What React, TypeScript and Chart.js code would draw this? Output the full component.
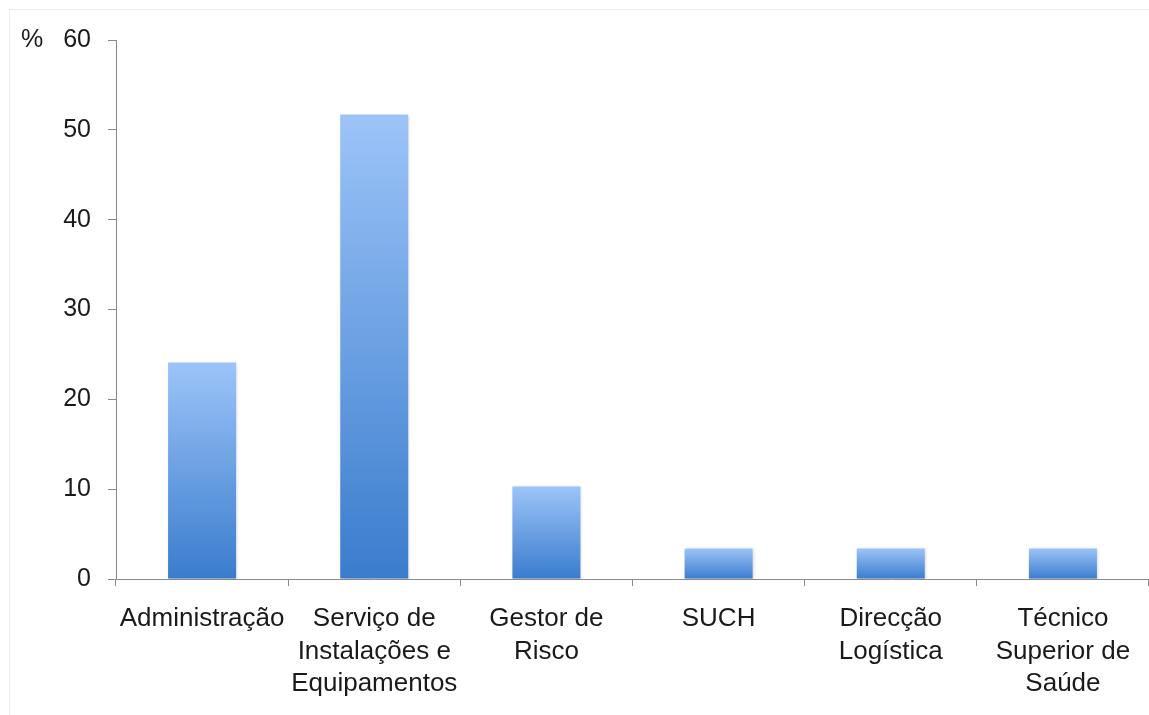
import React, { useEffect, useRef } from "react";
import { Chart, registerables } from "chart.js";

Chart.register(...registerables);

// Share of respondents by area (%)
const categories: string[][] = [
  ["Administração"],
  ["Serviço de", "Instalações e", "Equipamentos"],
  ["Gestor de", "Risco"],
  ["SUCH"],
  ["Direcção", "Logística"],
  ["Técnico", "Superior de", "Saúde"],
];
const percentages: number[] = [24.1, 51.7, 10.3, 3.4, 3.4, 3.4];
const yTicks: number[] = [0, 10, 20, 30, 40, 50, 60];
const yUnit = "%";

const FONT = "'Liberation Sans', Arial, sans-serif";
const TEXT = "#1a1a1a";
const AXIS = "#8a8a8a";

const framePlugin = {
  id: "frame",
  beforeDraw(chart: Chart) {
    const { ctx } = chart;
    ctx.save();
    ctx.strokeStyle = "#ececec";
    ctx.lineWidth = 1;
    ctx.strokeRect(9.5, 9.5, chart.width + 20, chart.height + 20);
    ctx.restore();
  },
  afterDraw(chart: Chart) {
    const { ctx } = chart;
    const y = chart.scales.y;
    ctx.save();
    ctx.fillStyle = TEXT;
    ctx.font = `25px ${FONT}`;
    ctx.textAlign = "left";
    ctx.textBaseline = "middle";
    ctx.fillText(yUnit, 21, y.getPixelForValue(yTicks[yTicks.length - 1]));
    ctx.restore();
  },
};

const shadowPlugin = {
  id: "barShadow",
  beforeDatasetsDraw(chart: Chart) {
    const { ctx } = chart;
    ctx.save();
    ctx.shadowColor = "rgba(0,0,0,0.18)";
    ctx.shadowBlur = 3;
    ctx.shadowOffsetX = 1;
    ctx.shadowOffsetY = 1;
  },
  afterDatasetsDraw(chart: Chart) {
    chart.ctx.restore();
  },
};

function barGradient(context: any) {
  const c = context.chart;
  const ys = c.scales?.y;
  if (!ys || context.raw == null) return "#6fa3e6";
  const top = ys.getPixelForValue(context.raw);
  const base = ys.getPixelForValue(0);
  if (!Number.isFinite(top) || !Number.isFinite(base) || top === base) return "#6fa3e6";
  const g = c.ctx.createLinearGradient(0, top, 0, base);
  g.addColorStop(0, "#9cc4f8");
  g.addColorStop(1, "#3a7ccd");
  return g;
}

export default function App() {
  const canvasRef = useRef<HTMLCanvasElement | null>(null);

  useEffect(() => {
    const canvas = canvasRef.current;
    if (!canvas) return;

    const chart = new Chart(canvas, {
      type: "bar",
      data: {
        labels: categories,
        datasets: [
          {
            data: percentages,
            barPercentage: 0.395,
            categoryPercentage: 1,
            borderWidth: 0,
            backgroundColor: barGradient,
          },
        ],
      },
      options: {
        responsive: false,
        animation: false,
        layout: { padding: { top: 40, right: 0, left: 0, bottom: 0 } },
        plugins: {
          legend: { display: false },
          tooltip: { enabled: false },
        },
        scales: {
          x: {
            afterFit: (scale: any) => {
              scale.height = 136;
            },
            border: { display: true, color: AXIS, width: 1 },
            grid: {
              display: true,
              offset: true,
              drawOnChartArea: false,
              drawTicks: true,
              tickLength: 7,
              color: AXIS,
            },
            ticks: {
              color: TEXT,
              font: { family: FONT, size: 26, lineHeight: 1.25 },
              padding: 17,
              maxRotation: 0,
              autoSkip: false,
            },
          },
          y: {
            min: yTicks[0],
            max: yTicks[yTicks.length - 1],
            afterFit: (scale: any) => {
              scale.width = 116;
            },
            afterBuildTicks: (scale: any) => {
              scale.ticks = yTicks.map((v) => ({ value: v }));
            },
            border: { display: true, color: AXIS, width: 1 },
            grid: {
              display: true,
              drawOnChartArea: false,
              drawTicks: true,
              tickLength: 8,
              color: AXIS,
            },
            ticks: {
              color: TEXT,
              font: { family: FONT, size: 25 },
              padding: 17,
            },
          },
        },
      },
      plugins: [framePlugin, shadowPlugin],
    });

    return () => chart.destroy();
  }, []);

  return (
    <div style={{ position: "absolute", left: 0, top: 0, width: 1149, height: 715, background: "#fff" }}>
      <canvas ref={canvasRef} width={1149} height={715} />
    </div>
  );
}
